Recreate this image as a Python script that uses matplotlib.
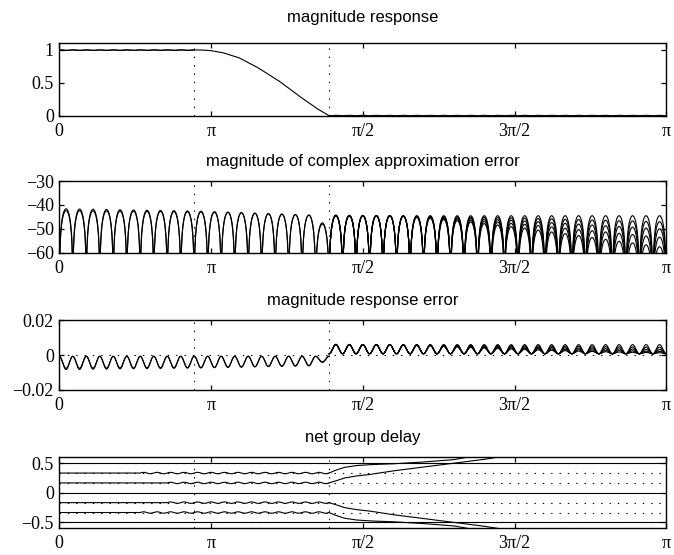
import numpy as np
import matplotlib
matplotlib.use("Agg")
import matplotlib.pyplot as plt

# band edges and ripple lobe width, all in fractions of pi
PASS_EDGE = 2 / 9
STOP_EDGE = 4 / 9
LOBE = 1 / 45

TICK_POS = [0, 0.25, 0.5, 0.75, 1.0]
TICK_LABELS = ["0", "π", "π/2", "3π/2", "π"]

# transition band of the magnitude response
TAPER_W = [0.2222, 0.236, 0.25, 0.27, 0.296, 0.327, 0.363, 0.398, 0.426, 0.4444]
TAPER_MAG = [1.0, 0.997, 0.988, 0.955, 0.88, 0.73, 0.52, 0.28, 0.10, 0.0]

# peak level (dB) of each error lobe, passband (20 lobes)
PASS_A = [-41.6, -41.7, -41.8, -41.9, -42.0, -42.1, -42.2, -42.3, -42.4, -42.5,
          -42.6, -42.8, -43.0, -43.2, -43.4, -43.6, -43.8, -44.0, -44.2, -47.5]
PASS_B = [-42.4, -42.4, -42.5, -42.5, -42.6, -42.6, -42.7, -42.7, -42.8, -42.8,
          -42.9, -43.0, -43.1, -43.3, -43.5, -43.7, -43.9, -44.1, -44.3, -48.0]

# stopband (25 lobes), one list per filter envelope
STOP_1 = [-44.2, -44.3, -44.4, -44.5, -44.5, -44.5, -44.5, -44.5, -44.5, -44.5,
          -44.5, -44.5, -44.5, -44.5, -44.5, -44.5, -44.5, -44.5, -44.5, -44.5,
          -44.5, -44.5, -44.5, -44.5, -44.5]
STOP_2 = [-44.5, -44.5, -44.5, -44.5, -44.5, -44.6, -44.6, -44.7, -44.8, -44.9,
          -45.0, -45.1, -45.3, -45.4, -45.5, -45.7, -45.8, -46.0, -46.1, -46.3,
          -46.4, -46.6, -46.7, -46.9, -47.0]
STOP_3 = [-44.5, -44.5, -44.5, -44.5, -44.5, -44.6, -44.8, -44.9, -45.2, -45.4,
          -45.6, -45.9, -46.2, -46.4, -46.7, -47.0, -47.4, -47.7, -48.0, -48.4,
          -48.7, -49.0, -49.3, -49.7, -50.0]
STOP_4 = [-44.5, -44.5, -44.5, -44.5, -44.5, -44.7, -45.0, -45.2, -45.6, -45.9,
          -46.3, -46.8, -47.2, -47.7, -48.1, -48.6, -49.2, -49.7, -50.3, -50.8,
          -51.3, -51.9, -52.4, -53.0, -53.5]
STOP_5 = [-44.5, -44.5, -44.5, -44.5, -44.5, -44.8, -45.2, -45.5, -46.1, -46.6,
          -47.1, -47.8, -48.4, -49.1, -49.7, -50.5, -51.3, -52.0, -52.8, -53.6,
          -54.4, -55.2, -55.9, -56.7, -57.5]
ERR_FLOOR = 0.0007

# group delay: fractional delays of the filter bank
DELAYS = [0.5, 1 / 3, 1 / 6, 0, -1 / 6, -1 / 3, -0.5]
GD_RIPPLE = 0.012
RIPPLE_START_13 = 0.1333
RIPPLE_START_16 = 0.1778
GD_13_W = [0.4444, 0.455, 0.47, 0.49, 0.512, 0.55, 0.60, 0.65, 0.672, 0.69]
GD_13 = [0.333, 0.38, 0.43, 0.46, 0.475, 0.49, 0.52, 0.56, 0.60, 0.63]
GD_16_W = [0.4444, 0.455, 0.47, 0.49, 0.512, 0.55, 0.60, 0.65, 0.70, 0.722, 0.74]
GD_16 = [0.167, 0.20, 0.25, 0.285, 0.31, 0.37, 0.435, 0.50, 0.565, 0.60, 0.63]

plt.rcParams["lines.scale_dashes"] = False
SERIF = "Liberation Serif"
SANS = "Liberation Sans"
DOT = (0, (1.0, 5.0))
LW = 0.8


def lobes(start, peaks, shape, pts=40):
    t = np.linspace(0, 1, pts)
    xs = [start + (k + t) * LOBE for k in range(len(peaks))]
    ys = [shape(t, p) for p in peaks]
    return np.concatenate(xs), np.concatenate(ys)


def db_shape(t, p):
    return p + 20 * np.log10(np.maximum(np.sin(np.pi * t), 1e-4))


def pass_err(t, p):
    a = 10 ** (p / 20)
    return -(ERR_FLOOR + (a - ERR_FLOOR) * np.sin(np.pi * t) ** 2)


def stop_err(t, p):
    a = 10 ** (p / 20)
    return ERR_FLOOR + (a - ERR_FLOOR) * np.sin(np.pi * t) ** 2


def wiggle(t, p):
    return p + GD_RIPPLE * np.sin(2 * np.pi * t)


def style(ax, title, yticks, ylim, pad=11):
    ax.set_xlim(0, np.pi)
    ax.set_ylim(*ylim)
    ax.set_xticks([p * np.pi for p in TICK_POS])
    ax.set_xticklabels(TICK_LABELS, family=SERIF, fontsize=13)
    ax.set_yticks(yticks)
    ax.set_yticklabels([f"{v:g}".replace("-", "\u2212") for v in yticks],
                       family=SERIF, fontsize=13)
    ax.tick_params(direction="in", top=True, right=True, length=3.6, width=0.9)
    ax.tick_params(axis="x", pad=5)
    ax.tick_params(axis="y", pad=4)
    for s in ax.spines.values():
        s.set_linewidth(1.0)
    ax.set_title(title, family=SANS, fontsize=12, pad=pad)
    for e in (PASS_EDGE, STOP_EDGE):
        ax.axvline(e * np.pi, color="k", lw=LW, ls=DOT)


fig = plt.figure(figsize=(6.74, 5.55), dpi=100)
left, width = 0.088, 0.9006
ax1 = fig.add_axes([left, 0.7915, width, 0.1305])
ax2 = fig.add_axes([left, 0.5447, width, 0.129])
ax3 = fig.add_axes([left, 0.2973, width, 0.126])
ax4 = fig.add_axes([left, 0.0481, width, 0.128])

n_flat = 10  # lobes inside the flat passband
stops = [STOP_1, STOP_2, STOP_3, STOP_4, STOP_5]

# magnitude response
for pk in (PASS_A, PASS_B):
    x, y = lobes(0, pk[:n_flat], pass_err)
    ax1.plot(x * np.pi, 1 + y, color="k", lw=LW)
ax1.plot(np.array(TAPER_W) * np.pi, TAPER_MAG, color="k", lw=LW)
x, y = lobes(STOP_EDGE, STOP_1, stop_err)
ax1.plot(x * np.pi, y, color="k", lw=LW)
style(ax1, "magnitude response", [0, 0.5, 1], (0, 1.1), pad=15)

# complex approximation error in dB
for pk in (PASS_A, PASS_B):
    x, y = lobes(0, pk, db_shape)
    ax2.plot(x * np.pi, y, color="k", lw=LW)
for pk in stops:
    x, y = lobes(STOP_EDGE, pk, db_shape)
    ax2.plot(x * np.pi, y, color="k", lw=LW)
style(ax2, "magnitude of complex approximation error", [-60, -50, -40, -30], (-60, -30))

# magnitude response error
ax3.axhline(0, color="k", lw=LW, ls=DOT)
for pk in (PASS_A, PASS_B):
    x, y = lobes(0, pk, pass_err)
    ax3.plot(x * np.pi, y, color="k", lw=LW)
for pk in stops:
    x, y = lobes(STOP_EDGE, pk, stop_err)
    ax3.plot(x * np.pi, y, color="k", lw=LW)
style(ax3, "magnitude response error", [-0.02, 0, 0.02], (-0.02, 0.02))

# net group delay
for d in DELAYS:
    if d != 0:
        ax4.axhline(d, color="k", lw=LW, ls=DOT)
for d in (0.5, 0, -0.5):
    ax4.axhline(d, color="k", lw=LW)
for sgn in (1, -1):
    for d, start, tw, tv in ((1 / 3, RIPPLE_START_13, GD_13_W, GD_13),
                             (1 / 6, RIPPLE_START_16, GD_16_W, GD_16)):
        n = int(round((STOP_EDGE - start) / LOBE))
        xr, yr = lobes(start, [sgn * d] * n, wiggle)
        x = np.concatenate([[0, start], xr, tw])
        y = np.concatenate([[sgn * d, sgn * d], yr, sgn * np.array(tv)])
        ax4.plot(x * np.pi, y, color="k", lw=LW)
style(ax4, "net group delay", [-0.5, 0, 0.5], (-0.6, 0.6))

fig.savefig("out.png", dpi=100)
